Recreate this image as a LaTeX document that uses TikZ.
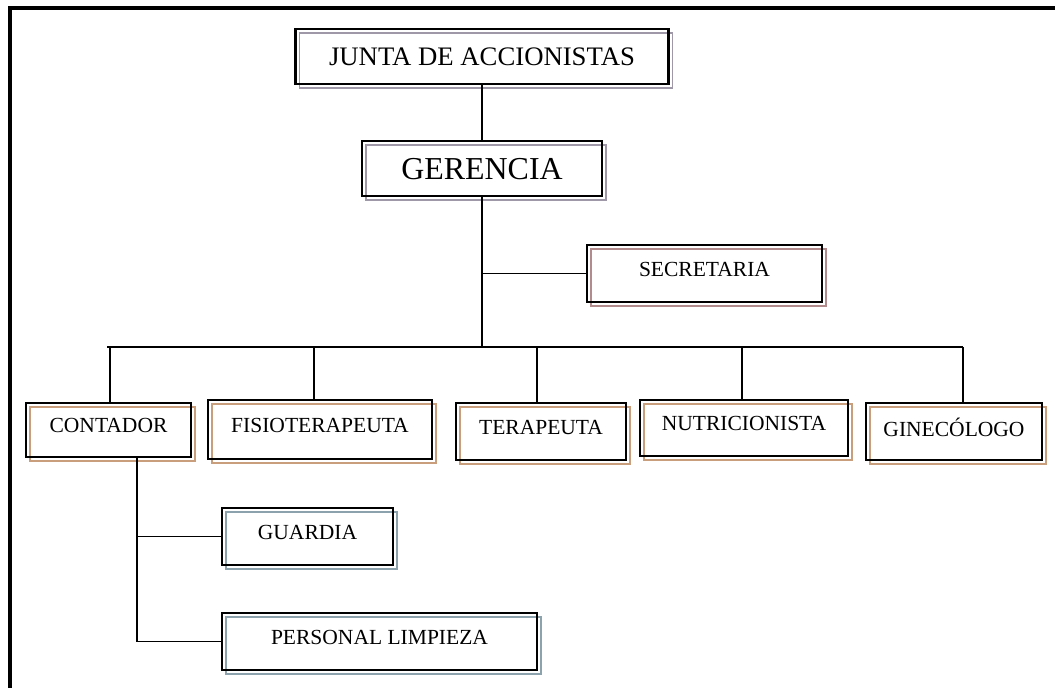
\documentclass[tikz,border=0pt]{standalone}
\usepackage{fontspec}
\setmainfont{Liberation Serif}
\usepackage{tikz}
\newcommand{\drawthick}{\draw[line width=2.4pt]}
\newcommand{\drawline}{\draw[line width=1.3pt]}
\definecolor{G}{RGB}{158,152,168}
\definecolor{S}{RGB}{178,140,140}
\definecolor{B}{RGB}{200,158,124}
\definecolor{A}{RGB}{140,162,172}
% box: name, centre x, centre y, width, height, shadow colour, text style, text
\newcommand{\orgbox}[8]{
    \draw[#6, line width=1.4pt] (#2-#4/2+4, #3-#5/2+4) rectangle (#2+#4/2+4, #3+#5/2+4);
    \node[unit, #7, minimum width=#4*0.025cm, minimum height=#5*0.025cm] (#1) at (#2, #3) {#8};
}
\tikzset{
  unit/.style={draw, line width=2.1pt, inner sep=0pt},
  small/.style={text depth=0.6em, font=\fontsize{15.3}{16}\selectfont},
  top/.style={text depth=0pt, font=\fontsize{19}{20}\selectfont},
  head/.style={text depth=0pt, font=\fontsize{22.7}{24}\selectfont},
}

\begin{document}
\begin{tikzpicture}[x=0.025cm, y=-0.025cm]
\useasboundingbox (0,0) rectangle (1055,688);
\drawthick (10,700)--(10,8)--(1060,8);
\orgbox{junta}{482}{56.5}{373}{55}{G}{top}{JUNTA DE ACCIONISTAS}
\orgbox{gerencia}{482}{168.5}{240}{55}{G}{head}{GERENCIA}
\orgbox{secretaria}{704.5}{273.5}{235}{57}{S}{small}{SECRETARIA}
\orgbox{contador}{108.5}{430}{165}{54}{B}{small}{CONTADOR}
\orgbox{fisio}{320}{429.5}{224}{59}{B}{small}{FISIOTERAPEUTA}
\orgbox{terapeuta}{541}{431.5}{170}{57}{B}{small}{TERAPEUTA}
\orgbox{nutri}{744}{428}{208}{56}{B}{small}{NUTRICIONISTA}
\orgbox{gine}{954}{431.5}{176}{57}{B}{small}{GINEC\'OLOGO}
\orgbox{guardia}{307.5}{536.5}{171}{57}{A}{small}{GUARDIA}
\orgbox{limpieza}{379.5}{641.5}{315}{57}{A}{small}{PERSONAL LIMPIEZA}
% lines
\coordinate (bus) at (482,347);
\coordinate (busl) at (107,347);
\coordinate (busr) at (963,347);
\coordinate (cstem) at (137,0);
\drawline (junta.south) -- (gerencia.north);
\drawline (gerencia.south) -- (bus);
\drawline (bus |- secretaria.west) -- (secretaria.west);
\drawline (busl) -- (busr);
\foreach \px/\bn in {110/contador, 314/fisio, 537/terapeuta, 742/nutri, 963/gine}{
    \coordinate (drop) at (\px,347);
    \drawline (drop) -- (drop |- \bn.north);
}
\drawline (cstem |- contador.south) -- (cstem |- limpieza.west) -- (limpieza.west);
\drawline (cstem |- guardia.west) -- (guardia.west);
\end{tikzpicture}
\end{document}
